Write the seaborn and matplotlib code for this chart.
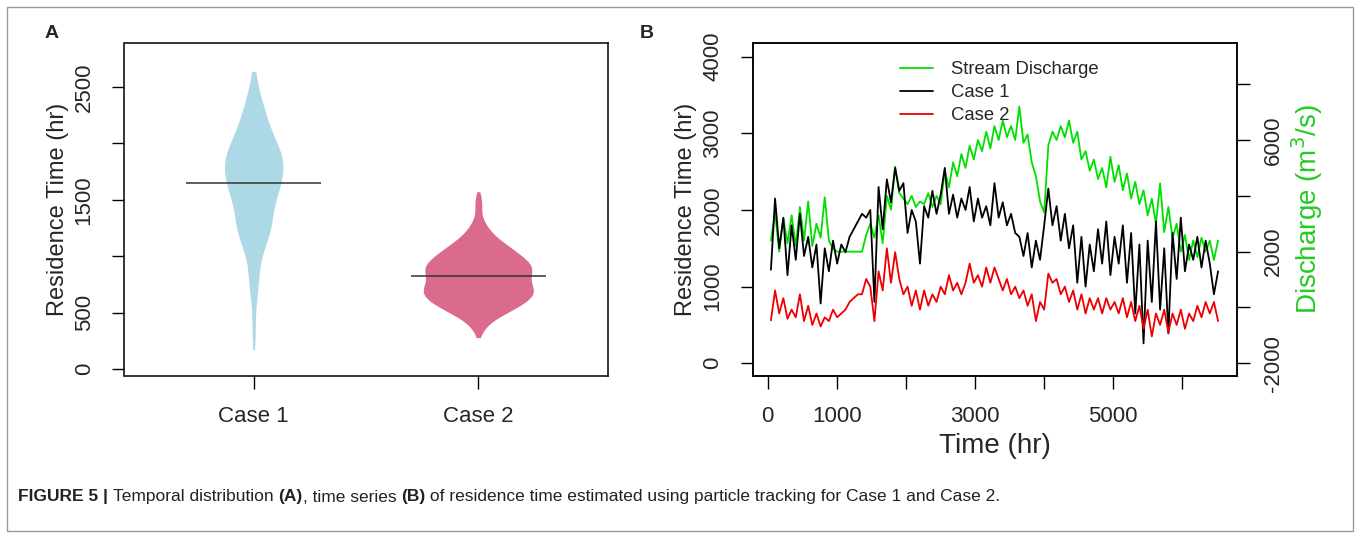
import numpy as np
import pandas as pd
import matplotlib
matplotlib.use("Agg")
import matplotlib.pyplot as plt
import seaborn as sns
from matplotlib.lines import Line2D
from matplotlib.patches import Rectangle

# ---------------- data ----------------
cases = ["Case 1", "Case 2"]
time_hr = np.arange(48, 6529, 60)

case1_rt = [
    1220, 2150, 1500, 1900, 1150, 1800, 1350, 1950, 1400, 1650,
    1250, 1550, 780, 1500, 1200, 1600, 1300, 1550, 1450, 1650,
    1750, 1850, 1950, 1900, 2000, 800, 2300, 1750, 2400, 2100,
    2550, 2250, 2350, 1700, 2000, 1850, 1300, 2050, 1900, 2250,
    1950, 2200, 2550, 1950, 2200, 1900, 2150, 2000, 2300, 1850,
    2150, 1900, 2050, 1800, 2350, 1900, 2100, 1800, 1950, 1700,
    1650, 1400, 1700, 1250, 1600, 1350, 1800, 2280, 1800, 2050,
    1600, 1950, 1500, 1800, 1050, 1650, 1000, 1550, 1200, 1750,
    1300, 1850, 1150, 1650, 1300, 1800, 1050, 1700, 650, 1550,
    260, 1600, 800, 1850, 700, 1500, 390, 1700, 1100, 1900,
    1200, 1550, 1350, 1650, 1250, 1600, 1300, 900, 1200,
]

case2_rt = [
    560, 950, 650, 850, 580, 700, 600, 900, 550, 750,
    500, 650, 480, 600, 550, 700, 600, 650, 700, 800,
    850, 900, 900, 1100, 1000, 550, 1200, 950, 1500, 1050,
    1450, 1100, 900, 1000, 750, 950, 700, 950, 750, 900,
    800, 1000, 900, 1150, 950, 1050, 900, 1050, 1300, 1050,
    1150, 1000, 1250, 1050, 1250, 1100, 950, 1100, 900, 1000,
    850, 950, 750, 900, 550, 800, 700, 1170, 1050, 1100,
    900, 1000, 800, 950, 700, 900, 650, 850, 700, 850,
    650, 850, 700, 800, 650, 850, 600, 800, 550, 750,
    450, 700, 350, 650, 500, 700, 400, 650, 500, 700,
    450, 650, 550, 750, 600, 800, 650, 800, 550,
]

discharge = [
    2400, 3400, 2000, 3200, 2300, 3300, 2200, 3600, 2400, 3800,
    2200, 3000, 2500, 3950, 2400, 2100, 2000, 2000, 2000, 2000,
    2000, 2000, 2000, 2600, 3000, 2500, 3300, 2300, 4000, 3500,
    5050, 4100, 3900, 3700, 4000, 3600, 3800, 3700, 4100, 3600,
    4000, 3700, 4900, 4300, 5200, 4700, 5500, 5000, 5800, 5300,
    6000, 5600, 6300, 5700, 6500, 6000, 6700, 6100, 6500, 6000,
    7200, 5900, 6200, 5200, 4700, 3800, 3400, 5800, 6300, 6000,
    6500, 6100, 6700, 5900, 6300, 5300, 5600, 4900, 5300, 4600,
    5000, 4300, 5400, 4500, 5100, 4200, 4800, 3900, 4500, 3700,
    4200, 3300, 3900, 3000, 4450, 2700, 3600, 2500, 3000, 2000,
    2600, 1700, 2400, 1800, 2500, 2000, 2400, 1700, 2400,
]

a_yticks = [0, 500, 1000, 1500, 2000, 2500]
a_yticklabels = ["0", "500", "", "1500", "", "2500"]
b_xticks = [0, 1000, 2000, 3000, 4000, 5000, 6000]
b_xticklabels = ["0", "1000", "", "3000", "", "5000", ""]
b_yticks = [0, 1000, 2000, 3000, 4000]
b_yticklabels = ["0", "1000", "2000", "3000", "4000"]
q_ticks = [-2000, 0, 2000, 4000, 6000, 8000]
q_ticklabels = ["-2000", "", "2000", "", "6000", ""]
legend_labels = ["Stream Discharge", "Case 1", "Case 2"]

caption_parts = [
    ("FIGURE 5 | ", True),
    ("Temporal distribution ", False),
    ("(A)", True),
    (", time series ", False),
    ("(B)", True),
    (" of residence time estimated using particle tracking for Case 1 and Case 2.", False),
]

# ---------------- style ----------------
sns.set_style("ticks")
plt.rcParams["font.family"] = ["Liberation Sans", "DejaVu Sans"]
plt.rcParams["axes.linewidth"] = 1.1
plt.rcParams["axes.edgecolor"] = "black"

C_BLUE = "#ADD8E6"
C_PINK = "#DB6B8C"
C_GREEN = "#00E000"
C_GREEN_LBL = "#22CC22"
C_RED = "#EE0000"

W, H = 1360, 538
fig = plt.figure(figsize=(W / 100, H / 100), dpi=100)
fig.patch.set_facecolor("white")

axA = fig.add_axes([124.5 / W, 1 - 376 / H, 483.9 / W, 333 / H])
axB = fig.add_axes([753.4 / W, 1 - 376 / H, 483.5 / W, 333 / H])

# ---------------- panel A ----------------
df = pd.DataFrame({
    "case": [cases[0]] * len(case1_rt) + [cases[1]] * len(case2_rt),
    "rt": case1_rt + case2_rt,
})
violin_specs = [
    (cases[0], C_BLUE, 0.26, 0.55, 0.9),
    (cases[1], C_PINK, 0.49, 0.9, 0.9),
]
for name, col, wdt, cut, bw in violin_specs:
    sns.violinplot(data=df[df["case"] == name], x="case", y="rt", order=cases,
                   color=col, inner=None, linewidth=0, density_norm="width",
                   width=wdt, cut=cut, bw_adjust=bw, saturation=1, ax=axA)
for i, vals in enumerate([case1_rt, case2_rt]):
    axA.hlines(np.mean(vals), i - 0.3, i + 0.3, color="#333333", lw=1.1, zorder=5)

axA.set_xlim(-0.575, 1.579)
axA.set_ylim(-62, 2890)
axA.set_yticks(a_yticks)
axA.set_yticklabels(a_yticklabels)
axA.set_xlabel("")
axA.set_ylabel("Residence Time (hr)", fontsize=17, va="center")
axA.yaxis.set_label_coords((58 - 124.5) / 483.9, 0.5)
axA.tick_params(axis="both", direction="out", length=9, width=1.0,
                labelsize=16, color="black", pad=12.5)
axA.tick_params(axis="y", labelrotation=90)
for lab in axA.get_yticklabels():
    lab.set_va("center")
for sp in axA.spines.values():
    sp.set_visible(True)
    sp.set_color("black")

# ---------------- panel B ----------------
ax2 = axB.twinx()
sns.lineplot(x=time_hr, y=discharge, ax=ax2, color=C_GREEN, lw=1.3)
sns.lineplot(x=time_hr, y=case1_rt, ax=axB, color="black", lw=1.3)
sns.lineplot(x=time_hr, y=case2_rt, ax=axB, color=C_RED, lw=1.3)
axB.set_zorder(ax2.get_zorder() + 1)
axB.patch.set_visible(False)

axB.set_xlim(-206, 6801)
axB.set_ylim(-166, 4179)
ax2.set_ylim(-2455, 9476)
axB.set_xticks(b_xticks)
axB.set_xticklabels(b_xticklabels)
axB.set_yticks(b_yticks)
axB.set_yticklabels(b_yticklabels)
ax2.set_yticks(q_ticks)
ax2.set_yticklabels(q_ticklabels)

axB.set_xlabel("Time (hr)", fontsize=20, va="center")
axB.xaxis.set_label_coords(0.5, (376 - 446) / 333)
axB.set_ylabel("Residence Time (hr)", fontsize=17, va="center")
axB.yaxis.set_label_coords((686 - 753.4) / 483.5, 0.5)
ax2.set_ylabel("Discharge (m$^3$/s)", fontsize=20, color=C_GREEN_LBL, va="center")
ax2.yaxis.set_label_coords((1307 - 753.4) / 483.5, 0.5)

for ax in (axB, ax2):
    ax.tick_params(axis="both", direction="out", length=9, width=1.0,
                   labelsize=16, color="black", pad=12.5)
    ax.tick_params(axis="y", labelrotation=90)
    for sp in ax.spines.values():
        sp.set_visible(True)
        sp.set_color("black")
ax2.tick_params(axis="y", pad=9.5)
for lab in axB.get_yticklabels() + ax2.get_yticklabels():
    lab.set_va("center")

handles = [Line2D([], [], color=C_GREEN, lw=1.3),
           Line2D([], [], color="black", lw=1.3),
           Line2D([], [], color=C_RED, lw=1.3)]
axB.legend(handles, legend_labels, loc="upper left",
           bbox_to_anchor=(900 / W, 1 - 61 / H), bbox_transform=fig.transFigure,
           frameon=False, fontsize=13.3, handlelength=1.78, handletextpad=0.97,
           labelspacing=0.33, borderpad=0, borderaxespad=0)

# ---------------- figure furniture ----------------
fig.text(52 / W, 1 - 33 / H, "A", fontsize=14, weight="bold", ha="center", va="center")
fig.text(647 / W, 1 - 33 / H, "B", fontsize=14, weight="bold", ha="center", va="center")

fig.add_artist(Rectangle((7 / W, 7 / H), (1353 - 7) / W, (531 - 7) / H,
                         transform=fig.transFigure, fill=False,
                         edgecolor="#9a9a9a", lw=1.0))

renderer = fig.canvas.get_renderer()
x = 18.0
for txt, bold in caption_parts:
    t = fig.text(x / W, 1 - 497 / H, txt, fontsize=12.5, color="#222222",
                 weight="bold" if bold else "normal", ha="left", va="center")
    x += t.get_window_extent(renderer=renderer).width

fig.savefig("out.png", dpi=100)
